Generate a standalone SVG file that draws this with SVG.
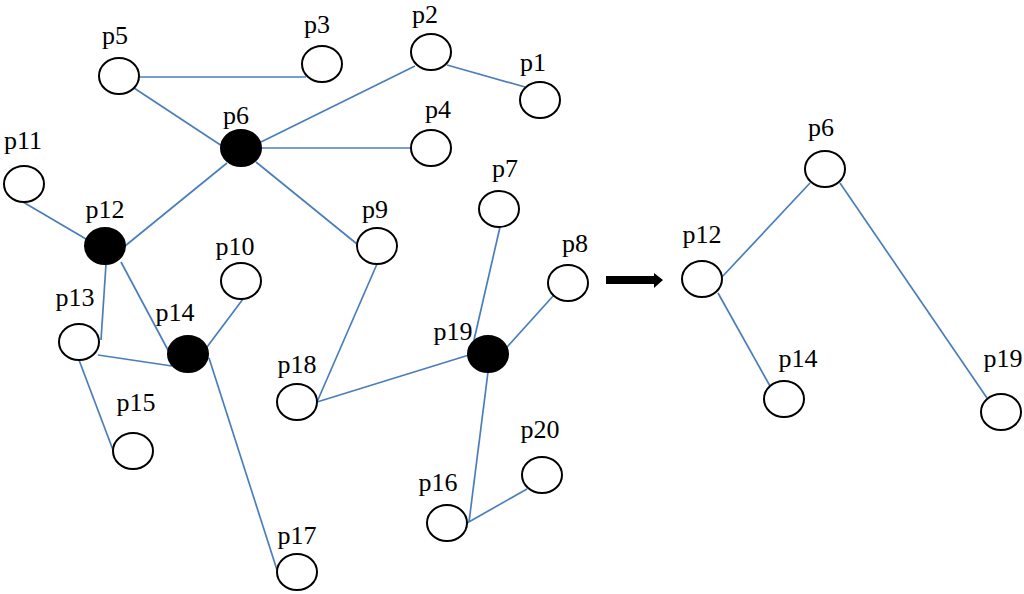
<svg xmlns="http://www.w3.org/2000/svg" width="1024" height="594" viewBox="0 0 1024 594">
<style>
.n{fill:#fff;stroke:#000;stroke-width:2}
.f{fill:#000;stroke:#000;stroke-width:2}
.e line{stroke:#4a7ebb;stroke-width:1.7}
text{font-family:"Liberation Serif","Times New Roman",serif;font-size:26px;fill:#000;text-anchor:middle}
</style>
<rect width="1024" height="594" fill="#fff"/>
<g id="connectors" class="e">
<line x1="140" y1="77" x2="306" y2="77"/>
<line x1="134" y1="88" x2="222" y2="146"/>
<line x1="261" y1="142" x2="415" y2="66"/>
<line x1="447" y1="65" x2="525" y2="87"/>
<line x1="262" y1="148" x2="411" y2="148"/>
<line x1="256" y1="162" x2="357" y2="244"/>
<line x1="227" y1="163" x2="125" y2="246"/>
<line x1="23" y1="202" x2="86" y2="239"/>
<line x1="106" y1="264" x2="101" y2="340"/>
<line x1="121" y1="262" x2="169" y2="352"/>
<line x1="98" y1="355" x2="172" y2="366"/>
<line x1="79" y1="360" x2="113" y2="450"/>
<line x1="207" y1="347" x2="243" y2="299"/>
<line x1="209" y1="358" x2="277" y2="570"/>
<line x1="377" y1="264" x2="317" y2="402"/>
<line x1="317" y1="402" x2="469" y2="355"/>
<line x1="500" y1="227" x2="474" y2="340"/>
<line x1="554" y1="295" x2="507" y2="347"/>
<line x1="488" y1="372" x2="469" y2="522"/>
<line x1="467" y1="523" x2="527" y2="489"/>
<line x1="810" y1="183" x2="722" y2="277"/>
<line x1="718" y1="293" x2="770" y2="386"/>
<line x1="840" y1="183" x2="987" y2="398"/>
</g>
<g id="arrow"><polygon points="606,276 654,276 654,273 663,280 654,288 654,284 606,284" fill="#000"/></g>
<g id="p1"><ellipse class="n" cx="540" cy="100" rx="20" ry="18"/><text x="533" y="71">p1</text></g>
<g id="p2"><ellipse class="n" cx="431" cy="52" rx="20" ry="18"/><text x="425" y="23">p2</text></g>
<g id="p3"><ellipse class="n" cx="322" cy="64" rx="20" ry="18"/><text x="317" y="33">p3</text></g>
<g id="p4"><ellipse class="n" cx="431" cy="148" rx="20" ry="18"/><text x="438" y="118">p4</text></g>
<g id="p5"><ellipse class="n" cx="119" cy="76" rx="20" ry="18"/><text x="115" y="44">p5</text></g>
<g id="p6"><ellipse class="f" cx="241" cy="148" rx="20" ry="18"/><text x="236" y="124">p6</text></g>
<g id="p7"><ellipse class="n" cx="499" cy="209" rx="20" ry="18"/><text x="505" y="177">p7</text></g>
<g id="p8"><ellipse class="n" cx="568" cy="283" rx="20" ry="18"/><text x="575" y="252">p8</text></g>
<g id="p9"><ellipse class="n" cx="377" cy="246" rx="20" ry="18"/><text x="375" y="218">p9</text></g>
<g id="p10"><ellipse class="n" cx="241" cy="281" rx="20" ry="18"/><text x="235" y="255">p10</text></g>
<g id="p11"><ellipse class="n" cx="24" cy="184" rx="20" ry="18"/><text x="23" y="149">p11</text></g>
<g id="p12"><ellipse class="f" cx="105" cy="246" rx="20" ry="18"/><text x="105" y="218">p12</text></g>
<g id="p13"><ellipse class="n" cx="79" cy="342" rx="20" ry="18"/><text x="75" y="306">p13</text></g>
<g id="p14"><ellipse class="f" cx="188" cy="354" rx="20" ry="18"/><text x="175" y="321">p14</text></g>
<g id="p15"><ellipse class="n" cx="133" cy="451" rx="20" ry="18"/><text x="136" y="411">p15</text></g>
<g id="p16"><ellipse class="n" cx="447" cy="523" rx="20" ry="18"/><text x="438" y="491">p16</text></g>
<g id="p17"><ellipse class="n" cx="297" cy="572" rx="20" ry="18"/><text x="297" y="544">p17</text></g>
<g id="p18"><ellipse class="n" cx="297" cy="402" rx="20" ry="18"/><text x="297" y="373">p18</text></g>
<g id="p19"><ellipse class="f" cx="488" cy="354" rx="20" ry="18"/><text x="453" y="340">p19</text></g>
<g id="p20"><ellipse class="n" cx="542" cy="475" rx="20" ry="18"/><text x="540" y="438">p20</text></g>
<g id="r-p6"><ellipse class="n" cx="825" cy="169" rx="20" ry="18"/><text x="821" y="136">p6</text></g>
<g id="r-p12"><ellipse class="n" cx="702" cy="279" rx="20" ry="18"/><text x="702" y="243">p12</text></g>
<g id="r-p14"><ellipse class="n" cx="784" cy="399" rx="20" ry="18"/><text x="798" y="367">p14</text></g>
<g id="r-p19"><ellipse class="n" cx="1001" cy="412" rx="20" ry="18"/><text x="1003" y="367">p19</text></g>
</svg>
